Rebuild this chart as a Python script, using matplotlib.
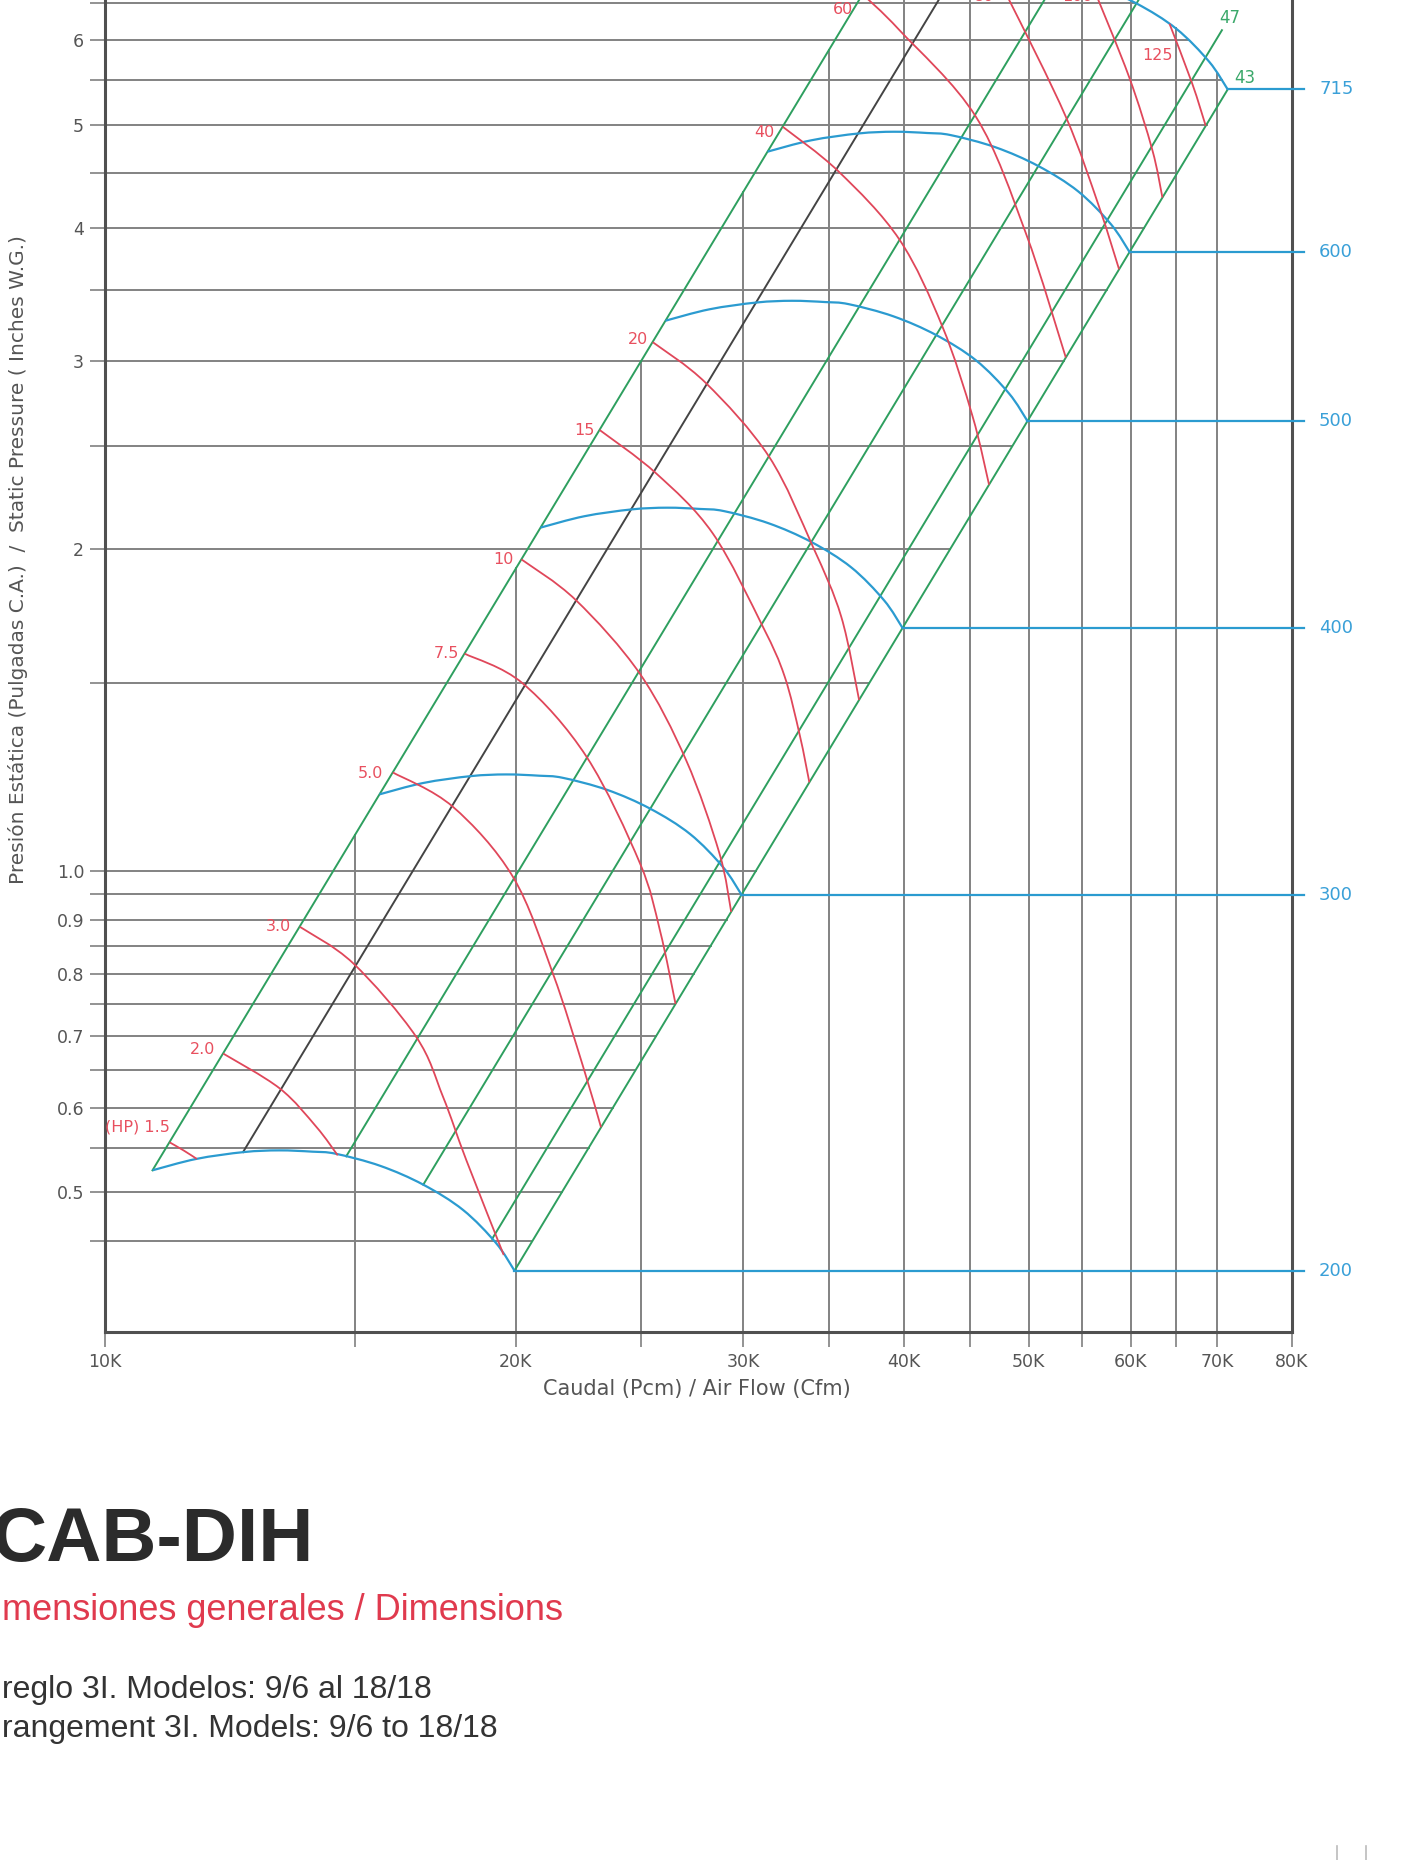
import numpy as np
import matplotlib
matplotlib.use('Agg')
import matplotlib.pyplot as plt
from matplotlib.path import Path
from matplotlib.patches import PathPatch
from matplotlib.lines import Line2D
from matplotlib.ticker import FixedLocator, FixedFormatter, NullLocator

# fan curve at the base speed (cfm, in. w.g.)
base_rpm = 200
base_cfm = np.array([10450, 11300, 12300, 13100, 13900, 14500, 15700, 16950, 18200, 19300, 19950])
base_sp = np.array([0.524, 0.537, 0.545, 0.547, 0.5455, 0.543, 0.529, 0.508, 0.481, 0.448, 0.422])

rpm_values = [200, 300, 400, 500, 600, 715]

# diagonal lines, start point on the 200 rpm curve
sys_cfm = [10450, 12285, 14770, 16950, 19170, 19950]
sys_sp = [0.524, 0.545, 0.540, 0.508, 0.452, 0.422]
sys_labels = ['', '', '', '', '47', '43']

# brake horsepower curves
hp_labels = ['(HP) 1.5', '2.0', '3.0', '5.0', '7.5', '10', '15', '20', '40', '60', '80', '100', '125']
hp_cfm = [
    [10774, 11051, 11311],
    [11858, 13117, 14004, 14547],
    [13596, 14954, 16734, 17559, 18306, 19570],
    [16054, 17868, 19893, 21367, 22545, 23283],
    [18251, 20243, 22696, 24962, 25875, 26600],
    [20200, 22267, 24962, 27108, 28763, 29380],
    [23229, 25695, 28428, 31079, 32319, 33210, 33781],
    [25537, 28089, 31439, 33998, 35764, 36921],
    [32214, 35616, 39680, 42852, 45214, 46568],
    [37158, 39670, 45485, 49736, 53411],
    [46802, 48272, 53411, 56668, 58742],
    [56070, 59800, 62340, 63470],
    [64280, 66923, 68575],
]
hp_sp = [
    [0.5566, 0.5468, 0.537],
    [0.674, 0.6252, 0.5754, 0.5412],
    [0.886, 0.819, 0.699, 0.614, 0.5355, 0.4365],
    [1.236, 1.148, 0.987, 0.801, 0.656, 0.575],
    [1.597, 1.498, 1.278, 1.016, 0.878, 0.750],
    [1.957, 1.792, 1.529, 1.269, 1.039, 0.915],
    [2.587, 2.356, 2.070, 1.694, 1.521, 1.339, 1.210],
    [3.127, 2.862, 2.442, 2.011, 1.729, 1.445],
    [4.976, 4.515, 3.901, 3.232, 2.665, 2.299],
    [6.621, 6.131, 5.085, 3.954, 3.025],
    [6.990, 6.540, 5.085, 4.191, 3.659],
    [6.727, 5.541, 4.732, 4.271],
    [6.214, 5.467, 4.986],
]

x_ticks = [9600, 15000, 20000, 25000, 30000, 35000, 40000, 45000, 50000, 55000, 60000, 65000, 70000, 80000]
x_tick_labels = ['10K', '', '20K', '', '30K', '', '40K', '', '50K', '', '60K', '', '70K', '80K']
y_ticks = [0.45, 0.5, 0.55, 0.6, 0.65, 0.7, 0.75, 0.8, 0.85, 0.9, 0.95, 1.0,
           1.5, 2, 2.5, 3, 3.5, 4, 4.5, 5, 5.5, 6, 6.5]
y_tick_labels = ['', '0.5', '', '0.6', '', '0.7', '', '0.8', '', '0.9', '', '1.0',
                 '', '2', '', '3', '', '4', '', '5', '', '6', '']

green = '#2e9f5f'
dark = '#444444'
red = '#e0475a'
blue = '#2b9bd0'
gridc = '#828282'

plt.rcParams['font.family'] = ['DejaVu Sans']

fig = plt.figure(figsize=(14.09, 18.60), dpi=100)
ax = fig.add_axes([0.07452, 0.28387, 0.84244, 0.71613])
ax.set_xscale('log')
ax.set_yscale('log')
xlim = (9600, 80000)
ylim = (0.3697, 6.541)
ax.set_xlim(xlim)
ax.set_ylim(ylim)


def smooth_curve(qs, ps, **kw):
    # smooth drawing through the read points (Catmull-Rom in log space)
    pts = np.column_stack([np.log10(qs), np.log10(ps)])
    n = len(pts)
    verts = [pts[0]]
    codes = [Path.MOVETO]
    for i in range(n - 1):
        p0 = pts[i - 1] if i > 0 else pts[i]
        p1, p2 = pts[i], pts[i + 1]
        p3 = pts[i + 2] if i + 2 < n else pts[i + 1]
        verts += [p1 + (p2 - p0) / 6, p2 - (p3 - p1) / 6, p2]
        codes += [Path.CURVE4] * 3
    path = Path(10 ** np.array(verts), codes)
    ax.add_patch(PathPatch(path, fill=False, **kw))


# outline of the chart area: top speed curve, first and last diagonal
r_top = rpm_values[-1] / base_rpm
top_cfm = base_cfm * r_top
top_sp = base_sp * r_top ** 2
kL = sys_sp[0] / sys_cfm[0] ** 2
kR = sys_sp[-1] / sys_cfm[-1] ** 2
ipk = int(np.argmax(top_sp))


def top_edge(q):
    if q <= top_cfm[0]:
        return kL * q ** 2
    return np.exp(np.interp(np.log(q), np.log(top_cfm), np.log(top_sp)))


def right_edge(p):
    if p <= top_sp[-1]:
        return np.sqrt(p / kR)
    qd = top_cfm[ipk:][::-1]
    pd = top_sp[ipk:][::-1]
    return np.exp(np.interp(np.log(p), np.log(pd), np.log(qd)))


# grid only inside / below the band
for q in x_ticks[1:-1]:
    ax.plot([q, q], [ylim[0], min(top_edge(q), ylim[1])], color=gridc, lw=1.4, zorder=1)
for p in y_ticks:
    ax.plot([xlim[0], right_edge(p)], [p, p], color=gridc, lw=1.4, zorder=1)

# diagonal lines
for i in range(len(sys_cfm)):
    ext = 1.03 if i < len(sys_cfm) - 1 else 1.0
    q0, p0 = sys_cfm[i], sys_sp[i]
    q1, p1 = q0 * r_top * ext, p0 * (r_top * ext) ** 2
    ax.plot([q0, q1], [p0, p1], color=dark if i == 1 else green, lw=1.4, zorder=2)
    if sys_labels[i]:
        off = (-2, 2) if i < len(sys_cfm) - 1 else (5, 2)
        ax.annotate(sys_labels[i], xy=(q1, p1), xytext=off, textcoords='offset points',
                    ha='left', va='bottom', color='#3aa86a', fontsize=12, annotation_clip=False)

# speed curves
for n in rpm_values:
    r = n / base_rpm
    qs = base_cfm * r
    ps = base_sp * r ** 2
    smooth_curve(qs, ps, edgecolor=blue, lw=1.6, zorder=3)
    ax.plot([qs[-1], 81700], [ps[-1], ps[-1]], color=blue, lw=1.6, zorder=3, clip_on=False)
    ax.annotate(str(n), xy=(81700, ps[-1]), xytext=(11, 0), textcoords='offset points',
                ha='left', va='center', color='#3aa0d8', fontsize=13, annotation_clip=False)

# horsepower curves
label_off = [(0, 11), (-6, 3), (-6, 0), (-7, -1), (-4, 0), (-6, 0), (-4, 0),
             (-3, 2), (-6, -4), (-7, -11), (2, -20), (0, -7), (2, -23)]
for lab, qs, ps, off in zip(hp_labels, hp_cfm, hp_sp, label_off):
    smooth_curve(qs, ps, edgecolor=red, lw=1.3, zorder=4)
    ax.annotate(lab, xy=(qs[0], ps[0]), xytext=off, textcoords='offset points',
                ha='right', va='center', color='#e8505f', fontsize=11.5, annotation_clip=False)

ax.xaxis.set_major_locator(FixedLocator(x_ticks))
ax.xaxis.set_major_formatter(FixedFormatter(x_tick_labels))
ax.xaxis.set_minor_locator(NullLocator())
ax.yaxis.set_major_locator(FixedLocator(y_ticks))
ax.yaxis.set_major_formatter(FixedFormatter(y_tick_labels))
ax.yaxis.set_minor_locator(NullLocator())
ax.tick_params(direction='out', length=11, width=1.2, color='#808080',
               labelsize=12.5, labelcolor='#555555', pad=4)

ax.spines['top'].set_visible(False)
for s in ['left', 'bottom', 'right']:
    ax.spines[s].set_linewidth(2.2)
    ax.spines[s].set_color('#505050')

fig.text(697 / 1409, 1 - 1389 / 1860, 'Caudal (Pcm) / Air Flow (Cfm)',
         ha='center', va='center', fontsize=15, color='#555555')
fig.text(18 / 1409, 1 - 560 / 1860,
         'Presión Estática (Pulgadas C.A.)  /  Static Pressure ( Inches W.G.)',
         rotation=90, ha='center', va='center', fontsize=14.5, color='#555555')

# page text under the chart
fig.text(314 / 1409, 1 - 1561 / 1860, 'CAB-DIH', ha='right', va='baseline',
         fontsize=55, fontweight='bold', color='#2b2b2b', family=['Liberation Sans', 'DejaVu Sans'])
fig.text(2 / 1409, 1 - 1620 / 1860, 'mensiones generales / Dimensions', ha='left', va='baseline',
         fontsize=26, color='#e03a4e', family=['Liberation Sans', 'DejaVu Sans'])
fig.text(2 / 1409, 1 - 1698 / 1860, 'reglo 3I. Modelos: 9/6 al 18/18', ha='left', va='baseline',
         fontsize=23, color='#333333', family=['Liberation Sans', 'DejaVu Sans'])
fig.text(2 / 1409, 1 - 1737 / 1860, 'rangement 3I. Models: 9/6 to 18/18', ha='left', va='baseline',
         fontsize=23, color='#333333', family=['Liberation Sans', 'DejaVu Sans'])

# small page marks at the bottom right
for xm in [1337, 1366]:
    fig.add_artist(Line2D([xm / 1409, xm / 1409], [0, 14 / 1860], color='#bbbbbb', lw=1.2))

fig.savefig('out.png', dpi=100)
